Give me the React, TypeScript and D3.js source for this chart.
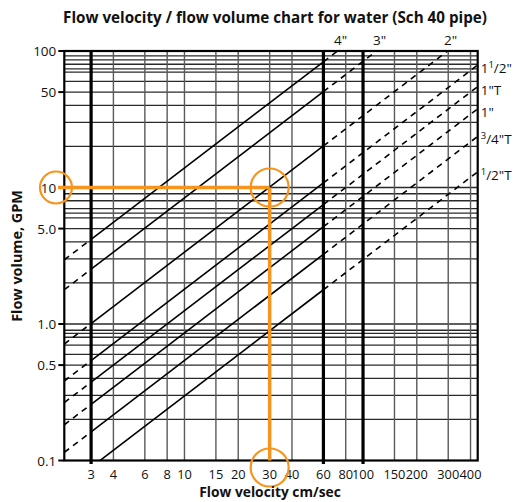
import React from 'react';
import * as d3 from 'd3';

const W = 527;
const H = 502;

// ---- data ----
const xTickValues = [3, 4, 6, 8, 10, 15, 20, 30, 40, 60, 80, 100, 150, 200, 300, 400];
const xThickValues = [3, 60, 100];
const yTickValues = [0.1, 0.5, 1, 5, 10, 50, 100];
const yTickLabels = ['0.1', '0.5', '1.0', '5.0', '10', '50', '100'];
const yGridValues = [0.2, 0.3, 0.4, 0.5, 0.6, 0.7, 0.8, 0.855, 0.9, 1, 2, 3, 4, 5, 6, 6.5, 7, 8, 9, 10, 20, 30, 40, 50, 60, 70, 74, 80, 86, 92];
const pipeNames = ['4"', '3"', '2"', '1 1/2"', '1"T', '1"', '3/4"T', '1/2"T'];
const pipeK = [1.39, 0.84, 0.336, 0.18, 0.125, 0.086, 0.054, 0.0297]; // GPM per (cm/sec)
const pipeLabelSide = ['top', 'top', 'top', 'right', 'right', 'right', 'right', 'right'];
const solidRange = [3, 60];
const markerVelocity = 30;
const markerFlow = 10;

const ORANGE = '#F7941D';
const FONT = '"Open Sans", "DejaVu Sans", sans-serif';

const plot = { left: 64.3, right: 477.7, top: 51, bottom: 460.5 };

const x = d3.scaleLog().domain([2.1235, 438.7]).range([plot.left, plot.right]);
const y = d3.scaleLog().domain([0.1, 100]).range([plot.bottom, plot.top]);

function renderLabel(name: string) {
  const m = name.match(/^(?:(\d+) )?(\d+)\/(.*)$/);
  if (!m) return name;
  const [, whole, num, rest] = m;
  return (
    <>
      {whole ? <tspan>{whole}</tspan> : null}
      <tspan dy={-4} fontSize={9.5}>{num}</tspan>
      <tspan dy={4}>{'/' + rest}</tspan>
    </>
  );
}

export default function App() {
  const [vMin, vMax] = x.domain();
  const line = d3
    .line<[number, number]>()
    .x((d) => x(d[0]))
    .y((d) => y(d[1]));

  const segs = (k: number) => {
    const a: [number, number][] = [[vMin, k * vMin], [solidRange[0], k * solidRange[0]]];
    const b: [number, number][] = [[solidRange[0], k * solidRange[0]], [solidRange[1], k * solidRange[1]]];
    const c: [number, number][] = [[solidRange[1], k * solidRange[1]], [vMax, k * vMax]];
    return { a, b, c };
  };

  return (
    <svg width={W} height={H} style={{ display: 'block', position: 'absolute', left: 0, top: 0 }} fontFamily={FONT}>
      <defs>
        <clipPath id="plotClip">
          <rect x={plot.left} y={plot.top} width={plot.right - plot.left} height={plot.bottom - plot.top} />
        </clipPath>
      </defs>
      <rect width={W} height={H} fill="#fff" />

      {/* title */}
      <text x={275} y={23} textAnchor="middle" fontWeight="bold" fontSize={15.2} fill="#111">
        Flow velocity / flow volume chart for water (Sch 40 pipe)
      </text>

      {/* horizontal grid */}
      {yGridValues.map((v) => (
        <line key={'hg' + v} x1={plot.left} x2={plot.right} y1={y(v)} y2={y(v)} stroke="#2a2a2a" strokeWidth={1.3} />
      ))}

      {/* vertical grid */}
      {xTickValues.map((v) => {
        const thick = xThickValues.includes(v);
        return (
          <line
            key={'vg' + v}
            x1={x(v)}
            x2={x(v)}
            y1={plot.top}
            y2={thick ? plot.bottom + 3.5 : plot.bottom}
            stroke={thick ? '#000' : '#5a5a5a'}
            strokeWidth={thick ? 3.2 : 1.4}
          />
        );
      })}

      {/* pipe lines */}
      <g clipPath="url(#plotClip)" fill="none" stroke="#000" strokeWidth={1.6}>
        {pipeK.map((k, i) => {
          const s = segs(k);
          return (
            <g key={'pipe' + i}>
              <path d={line(s.a) || ''} strokeDasharray="6,5" />
              <path d={line(s.b) || ''} />
              <path d={line(s.c) || ''} strokeDasharray="6,5" />
            </g>
          );
        })}
      </g>

      {/* frame */}
      <rect x={plot.left} y={plot.top} width={plot.right - plot.left} height={plot.bottom - plot.top} fill="none" stroke="#000" strokeWidth={2.2} />

      {/* y ticks */}
      {yTickValues.map((v, i) => (
        <g key={'yt' + v}>
          <line x1={plot.left - 6} x2={plot.left} y1={y(v)} y2={y(v)} stroke="#000" strokeWidth={2} />
          <text x={plot.left - 8} y={y(v)} textAnchor="end" dominantBaseline="central" fontSize={13.5} fill="#111">
            {yTickLabels[i]}
          </text>
        </g>
      ))}

      {/* x tick labels */}
      {xTickValues.map((v) => (
        <text key={'xt' + v} x={x(v)} y={478.5} textAnchor="middle" fontSize={12.8} fill="#111">
          {String(v)}
        </text>
      ))}

      {/* pipe labels */}
      {pipeK.map((k, i) => {
        if (pipeLabelSide[i] === 'top') {
          const vTop = 100 / k;
          return (
            <text key={'pl' + i} x={x(vTop) + 3} y={45} textAnchor="middle" fontSize={13.5} fill="#111">
              {renderLabel(pipeNames[i])}
            </text>
          );
        }
        const qRight = k * vMax;
        return (
          <text key={'pl' + i} x={plot.right + 3} y={y(qRight) + 3} dominantBaseline="central" fontSize={13.5} fill="#111">
            {renderLabel(pipeNames[i])}
          </text>
        );
      })}

      {/* orange example */}
      <g stroke={ORANGE} fill="none">
        <line x1={58} x2={x(markerVelocity)} y1={y(markerFlow)} y2={y(markerFlow)} strokeWidth={3.5} />
        <line x1={x(markerVelocity)} x2={x(markerVelocity)} y1={y(markerFlow)} y2={plot.bottom} strokeWidth={3.5} />
        <circle cx={56} cy={y(markerFlow)} r={16} strokeWidth={2.2} />
        <circle cx={x(markerVelocity)} cy={y(markerFlow)} r={19} strokeWidth={2.2} />
        <circle cx={x(markerVelocity)} cy={plot.bottom + 7} r={19} strokeWidth={2.2} />
      </g>

      {/* axis titles */}
      <text x={270} y={497} textAnchor="middle" fontWeight="bold" fontSize={13.8} fill="#111">
        Flow velocity cm/sec
      </text>
      <text
        transform={`translate(22, ${256}) rotate(-90)`}
        textAnchor="middle"
        fontWeight="bold"
        fontSize={14.4}
        fill="#111"
      >
        Flow volume, GPM
      </text>
    </svg>
  );
}
